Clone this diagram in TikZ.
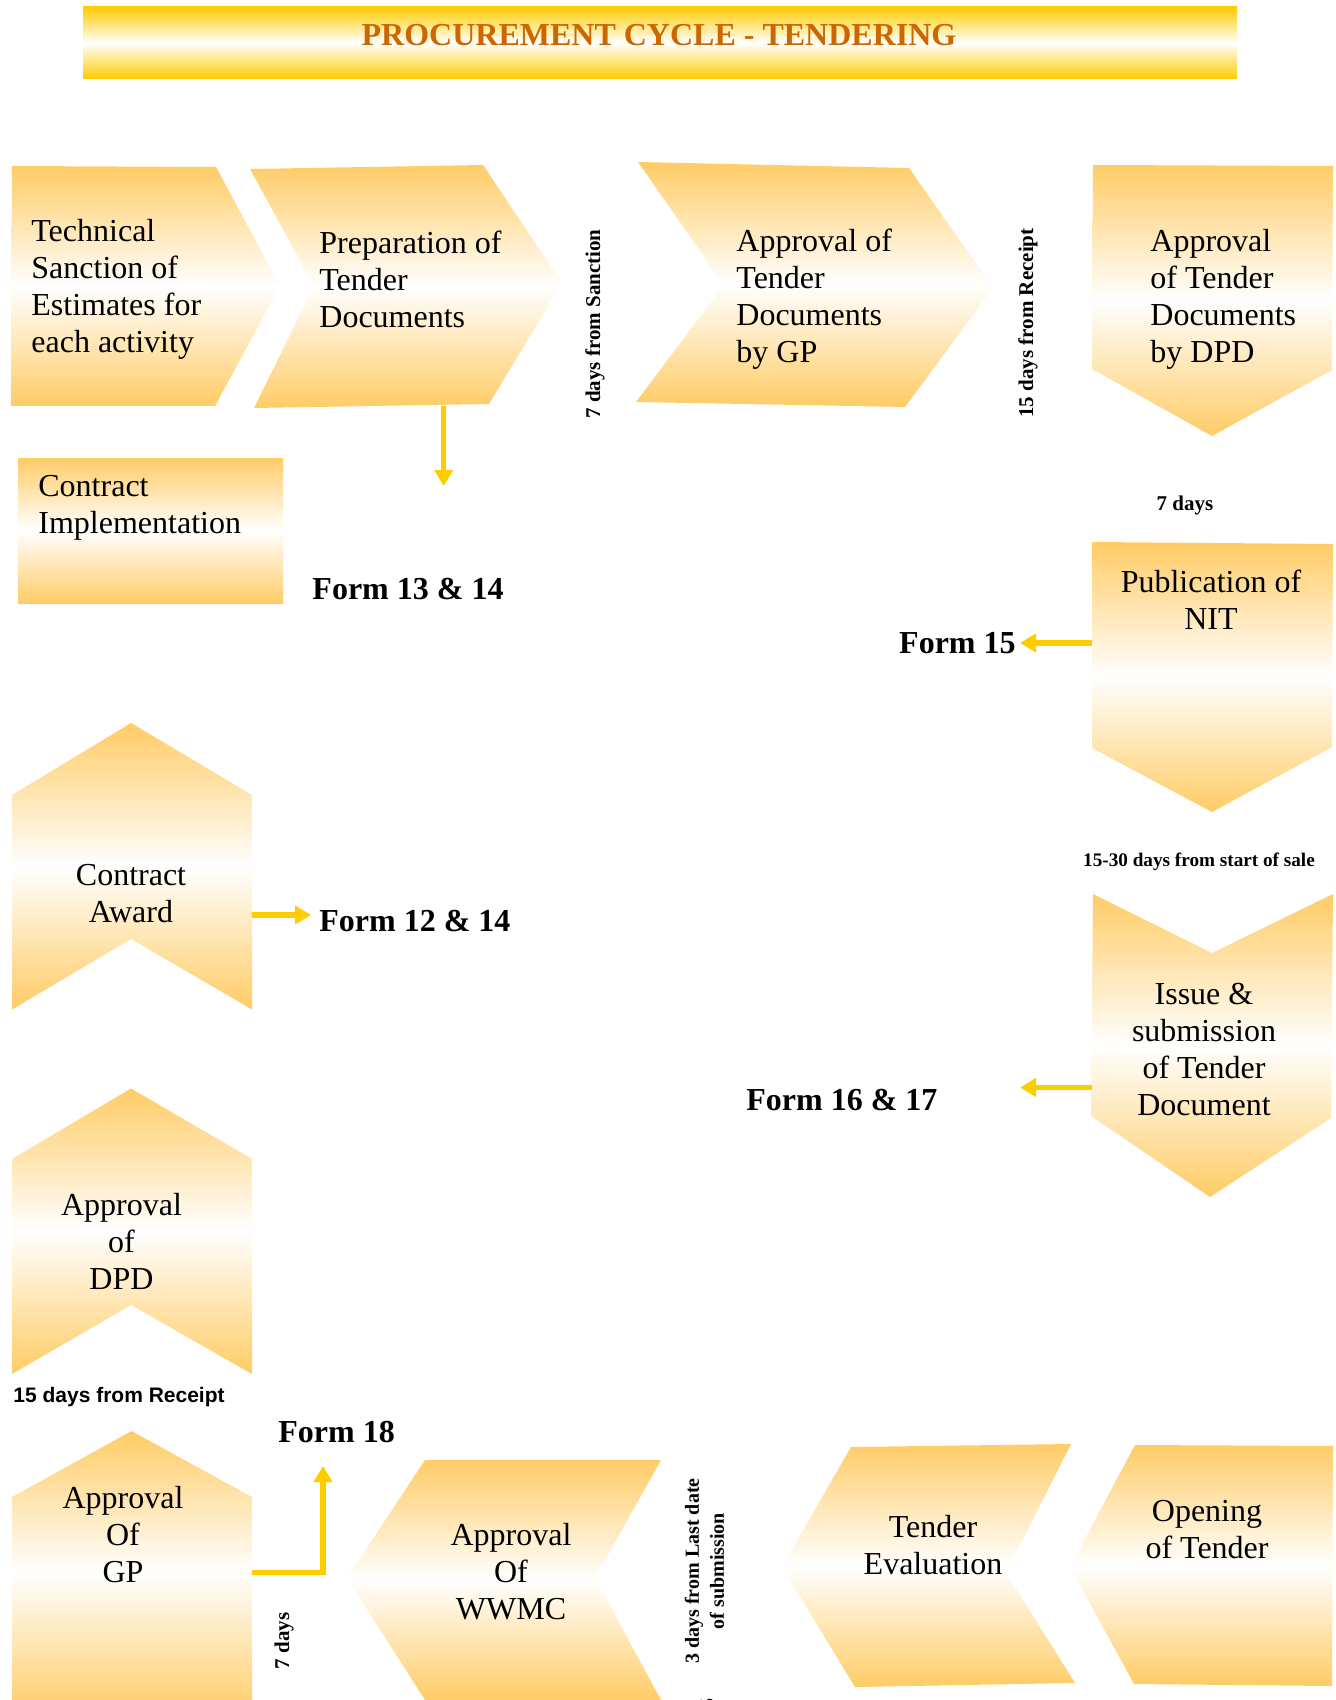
\documentclass[tikz,border=0pt]{standalone}
\usepackage{fontspec}
\setmainfont{Liberation Serif}
\setsansfont{Liberation Sans}
\usetikzlibrary{arrows.meta}
\definecolor{shapeor}{RGB}{255,204,102}
\definecolor{titleyel}{RGB}{255,204,0}
\definecolor{arrowyel}{RGB}{255,204,0}
\definecolor{titletxt}{RGB}{204,102,0}
\tikzset{
  shp/.style={top color=shapeor, bottom color=shapeor, middle color=white, draw=none},
  lbl/.style={font=\fontsize{16}{18.5}\selectfont, inner sep=0pt},
  frm/.style={font=\bfseries\fontsize{16}{18}\selectfont, inner sep=0pt},
  sml/.style={font=\bfseries\fontsize{10.5}{12.5}\selectfont, inner sep=0pt},
  arr/.style={draw=arrowyel, line width=2.6pt, -{Triangle[length=8pt,width=9pt]}},
}
\begin{document}
\begin{tikzpicture}[x=0.5pt,y=-0.5pt]
\useasboundingbox (0,0) rectangle (1335,1700);
\clip (0,0) rectangle (1335,1700);
\fill[white] (0,0) rectangle (1335,1700);
% title
\path[top color=titleyel, bottom color=titleyel, middle color=white] (83,7) rectangle (1237,79);
\node[font=\bfseries\fontsize{16}{18}\selectfont, text=titletxt, inner sep=0pt] (title) at (659,35) {PROCUREMENT CYCLE - TENDERING};
% shapes
\path[shp] (12,166) -- (216,167) -- (280,286) -- (215,406) -- (11,406) -- cycle;
\path[shp] (250,169) -- (483,165) -- (562,283) -- (489,404) -- (254,408) -- (314,286) -- cycle;
\path[shp] (638,162) -- (909,168) -- (993,288) -- (905,407) -- (636,402) -- (724,285) -- cycle;
\path[shp] (1093,165) -- (1333,166) -- (1332,370) -- (1212,436) -- (1092,369) -- cycle;
\path[shp] (18,458) rectangle (283,603);
\path[shp] (1092,542) -- (1333,544) -- (1332,747) -- (1212,812) -- (1092,748) -- cycle;
\path[shp] (1093,894) -- (1212,953) -- (1333,894) -- (1331,1118) -- (1210,1197) -- (1091,1116) -- cycle;
\path[shp] (12,795) -- (131,723) -- (252,795) -- (252,1009.5) -- (131,939) -- (12,1009.5) -- cycle;
\path[shp] (12,1159) -- (131,1088.5) -- (252,1159) -- (252,1374) -- (131,1305) -- (12,1374) -- cycle;
\path[shp] (12,1497) -- (131.5,1431) -- (252,1497) -- (252,1715) -- (12,1715) -- cycle;
\path[shp] (425,1460) -- (661,1460) -- (595,1578) -- (661,1700) -- (425,1700) -- (347,1578) -- cycle;
\path[shp] (851,1447) -- (1071,1444) -- (1006,1573) -- (1075,1683) -- (855,1687) -- (782,1567) -- cycle;
\path[shp] (1135,1445) -- (1333,1446) -- (1332,1686) -- (1134,1684) -- (1070,1567) -- cycle;
% shape texts
\node[lbl, anchor=west, align=left] (tech) at (31,289) {Technical\\Sanction of\\Estimates for\\each activity};
\node[lbl, anchor=west, align=left] (prep) at (319,279) {Preparation of\\Tender\\Documents};
\node[lbl, anchor=west, align=left] (apgp) at (736,299) {Approval of\\Tender\\Documents\\by GP};
\node[lbl, anchor=west, align=left] (apdpd) at (1150,299) {Approval\\of Tender\\Documents\\by DPD};
\node[lbl, anchor=west, align=left] (impl) at (38,508) {Contract\\Implementation};
\node[lbl, align=center] (pub) at (1211,600) {Publication of\\NIT};
\node[lbl, align=center] (issue) at (1204,1050) {Issue \&\\submission\\of Tender\\Document};
\node[lbl, align=center] (award) at (131,894) {Contract\\Award};
\node[lbl, align=center] (dpd) at (121.5,1241) {Approval\\of\\DPD};
\node[lbl, align=center] (gp) at (123,1535) {Approval\\Of\\GP};
\node[lbl, align=center] (wwmc) at (511,1572) {Approval\\Of\\WWMC};
\node[lbl, align=center] (teval) at (933,1545) {Tender\\Evaluation};
\node[lbl, align=center] (open) at (1207,1530) {Opening\\of Tender};
% form labels
\node[frm] (f1314) at (408,589) {Form 13 \& 14};
\node[frm, anchor=east] (f15) at (1016,643) {Form 15};
\node[frm, anchor=west] (f1214) at (319,921) {Form 12 \& 14};
\node[frm, anchor=west] (f1617) at (746,1100) {Form 16 \& 17};
\node[frm, anchor=west] (f18) at (278,1432) {Form 18};
% small labels
\node[sml, rotate=90] (d7s) at (595,324) {7 days from Sanction};
\node[sml, rotate=90] (d15r) at (1028,323) {15 days from Receipt};
\node[sml] (d7a) at (1185,505) {7 days};
\node[sml, font=\bfseries\fontsize{9.6}{12}\selectfont] (d1530) at (1199,862) {15-30 days from start of sale};
\node[sml, font=\sffamily\bfseries\fontsize{10.5}{12.5}\selectfont, anchor=west] (d15s) at (13,1397) {15 days from Receipt};
\node[sml, rotate=90] (d7b) at (284,1641) {7 days};
\node[sml, rotate=90, align=center, font=\bfseries\fontsize{10}{12.5}\selectfont] (d3) at (704.5,1571) {3 days from Last date\\of submission};
\node[font=\fontsize{10}{12}\selectfont, rotate=90, inner sep=0pt] (pg) at (707,1708) {35};
% connectors
\coordinate (prepB) at (443.7,406);
\coordinate (prepT) at (443.7,486);
\draw[arr] (prepB) -- (prepT);
\coordinate (pubW) at (1092,643);
\draw[arr, shorten >=2pt] (pubW) -- (f15.east);
\coordinate (awardE) at (252,915);
\coordinate (awardT) at (311,915);
\draw[arr] (awardE) -- (awardT);
\coordinate (issueW) at (1092,1087.5);
\coordinate (issueT) at (1020,1087.5);
\draw[arr] (issueW) -- (issueT);
\coordinate (gpE) at (252,1572.5);
\coordinate (gpT) at (323,1466);
\draw[arr] (gpE) -| (gpT);
\end{tikzpicture}
\end{document}
